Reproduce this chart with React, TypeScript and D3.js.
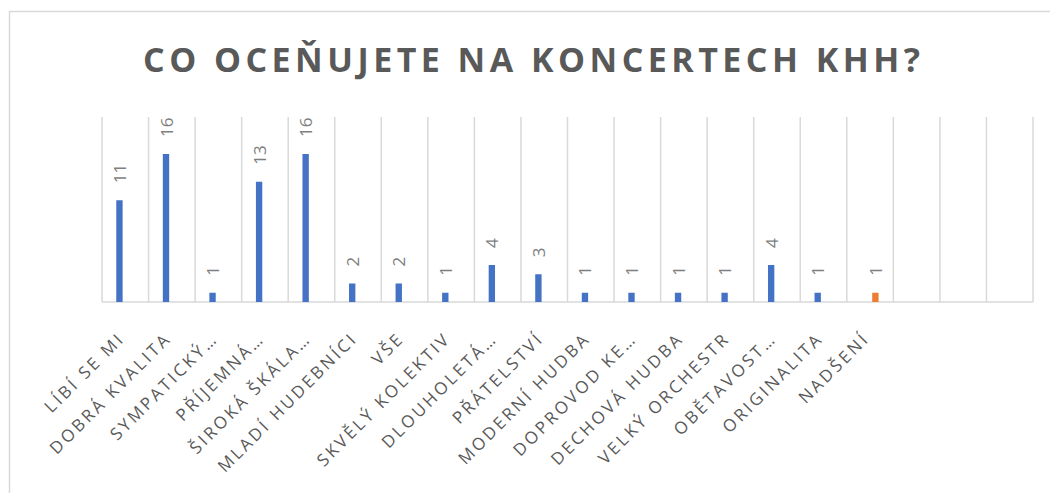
import React from "react";
import * as d3 from "d3";

const title = "CO OCEŇUJETE NA KONCERTECH KHH?";
const categories = [
  "LÍBÍ SE MI",
  "DOBRÁ KVALITA",
  "SYMPATICKÝ…",
  "PŘÍJEMNÁ…",
  "ŠIROKÁ ŠKÁLA…",
  "MLADÍ HUDEBNÍCI",
  "VŠE",
  "SKVĚLÝ KOLEKTIV",
  "DLOUHOLETÁ…",
  "PŘÁTELSTVÍ",
  "MODERNÍ HUDBA",
  "DOPROVOD KE…",
  "DECHOVÁ HUDBA",
  "VELKÝ ORCHESTR",
  "OBĚTAVOST…",
  "ORIGINALITA",
  "NADŠENÍ",
  "",
  "",
  "",
];
const seriesNames = ["s1", "s2"];
const series1: (number | null)[] = [11, 16, 1, 13, 16, 2, 2, 1, 4, 3, 1, 1, 1, 1, 4, 1, null, null, null, null];
const series2: (number | null)[] = [null, null, null, null, null, null, null, null, null, null, null, null, null, null, null, null, 1, null, null, null];
const seriesColors = ["#4472C4", "#ED7D31"];
const yDomain = [0, 20];

const W = 1050;
const H = 493;
const left = 102;
const right = 1033;
const top = 117;
const bottom = 302;

export default function App() {
  const idx = categories.map((_, i) => String(i));
  const x = d3.scaleBand().domain(idx).range([left, right]).paddingInner(0).paddingOuter(0);
  const y = d3.scaleLinear().domain(yDomain).range([bottom, top]);
  const bw = x.bandwidth();
  const inner = d3.scaleBand().domain(seriesNames).range([bw / 2 - 9, bw / 2 + 8.5]).paddingInner(0.43).paddingOuter(0);
  const allSeries = [series1, series2];
  const grid = d3.range(categories.length + 1).map((i) => left + i * bw);

  return (
    <svg width={W} height={H} style={{ position: "absolute", left: 0, top: 0, background: "#fff" }}>
      <rect x={9.5} y={11.5} width={W + 10} height={H + 10} fill="#fff" stroke="#d9d9d9" strokeWidth={1.5} />
      <text
        x={531.5}
        y={72}
        textAnchor="middle"
        fontFamily="'Open Sans', sans-serif"
        fontWeight={700}
        fontSize={34}
        fill="#595959"
        textLength={777}
        lengthAdjust="spacing"
      >
        {title}
      </text>
      {grid.map((gx, i) => (
        <line key={"g" + i} x1={gx} x2={gx} y1={top} y2={bottom} stroke="#d9d9d9" strokeWidth={1.5} />
      ))}
      <line x1={left} x2={right} y1={bottom} y2={bottom} stroke="#d9d9d9" strokeWidth={1.5} />
      {allSeries.map((s, si) =>
        s.map((v, i) => {
          if (v == null) return null;
          const bx = (x(String(i)) as number) + (inner(seriesNames[si]) as number);
          const bwid = inner.bandwidth();
          return (
            <g key={"b" + si + "-" + i}>
              <rect x={bx} y={y(v)} width={bwid} height={bottom - y(v)} fill={seriesColors[si]} />
              <text
                transform={`translate(${bx + bwid / 2},${y(v) - 17}) rotate(-90)`}
                dominantBaseline="central"
                textAnchor="start"
                fontFamily="'Open Sans', sans-serif"
                fontSize={17}
                fill="#7f7f7f"
              >
                {v}
              </text>
            </g>
          );
        })
      )}
      {categories.map((c, i) =>
        c ? (
          <text
            key={"c" + i}
            transform={`translate(${(x(String(i)) as number) + bw / 2 - 4},${bottom + 33}) rotate(-45)`}
            textAnchor="end"
            dominantBaseline="central"
            fontFamily="'Open Sans', sans-serif"
            fontSize={17}
            letterSpacing={2.8}
            fill="#595959"
          >
            {c}
          </text>
        ) : null
      )}
    </svg>
  );
}
